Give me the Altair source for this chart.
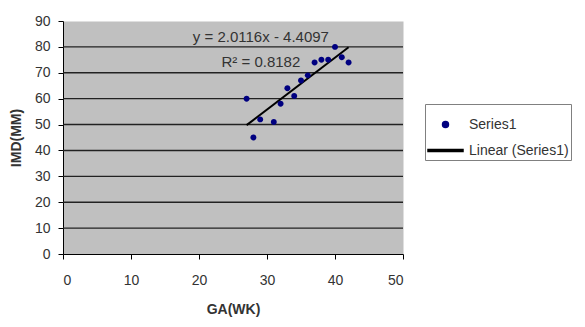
import altair as alt
import pandas as pd

# Data
ga_weeks = [27, 28, 29, 31, 32, 33, 34, 35, 36, 37, 38, 39, 40, 41, 42]
imd_mm = [60, 45, 52, 51, 58, 64, 61, 67, 69, 74, 75, 75, 80, 76, 74]
x_ticks = [0, 10, 20, 30, 40, 50]
y_ticks = [0, 10, 20, 30, 40, 50, 60, 70, 80, 90]
grid_values = [10, 20, 30, 40, 50, 60, 70, 80]
series_names = ["Series1", "Linear (Series1)"]
equation_text = "y = 2.0116x - 4.4097"
r2_text = "R\u00b2 = 0.8182"

FONT = "Liberation Sans"

points_df = pd.DataFrame({"ga": ga_weeks, "imd": imd_mm, "series": series_names[0]})
grid_df = pd.DataFrame({"g": grid_values})

xscale = alt.Scale(domain=[0, 50], nice=False, zero=False)
yscale = alt.Scale(domain=[0, 90], nice=False)

circle_path = "M0.17,0 A0.17,0.17 0 1,1 -0.17,0 A0.17,0.17 0 1,1 0.17,0 Z"
line_path = "M-1,-0.06 H1 V0.06 H-1 Z"

color_scale = alt.Scale(domain=series_names, range=["#000080", "#000000"])
shape_scale = alt.Scale(domain=series_names, range=[circle_path, line_path])

legend = alt.Legend(
    title=None, orient="none", legendX=362, legendY=83,
    strokeColor="#808080", fillColor="white", padding=2,
    labelFont=FONT, labelFontSize=14, labelColor="#333333",
    rowPadding=-7, labelOffset=5, symbolSize=1225,
)

xaxis = alt.Axis(
    values=x_ticks, title="GA(WK)", grid=False,
    domainColor="#000000", tickColor="#000000", tickSize=5,
    labelFont=FONT, labelFontSize=14, labelColor="#333333", labelPadding=14,
    labelOverlap=False,
    titleFont=FONT, titleFontSize=14, titleFontWeight="bold", titleColor="#333333",
    titlePadding=15,
)
yaxis = alt.Axis(
    values=y_ticks, title="IMD(MM)", grid=False,
    domainColor="#000000", tickColor="#000000", tickSize=5,
    labelFont=FONT, labelFontSize=14, labelColor="#333333", labelPadding=8,
    labelOverlap=False,
    titleFont=FONT, titleFontSize=14, titleFontWeight="bold", titleColor="#333333",
    titlePadding=11,
)

grid = alt.Chart(grid_df).mark_rule(color="#222222", strokeWidth=1.4).encode(
    y=alt.Y("g:Q", scale=yscale, axis=yaxis)
)

base = alt.Chart(points_df)

trend = base.transform_regression("ga", "imd").transform_calculate(
    series="'" + series_names[1] + "'"
).mark_line(strokeWidth=2).encode(
    x=alt.X("ga:Q", scale=xscale, axis=xaxis),
    y=alt.Y("imd:Q", scale=yscale, axis=yaxis),
    color=alt.Color("series:N", scale=color_scale, legend=legend),
)

pts = base.mark_point(filled=True, opacity=1, size=1225).encode(
    x=alt.X("ga:Q", scale=xscale, axis=xaxis),
    y=alt.Y("imd:Q", scale=yscale, axis=yaxis),
    color=alt.Color("series:N", scale=color_scale, legend=legend),
    shape=alt.Shape("series:N", scale=shape_scale, legend=legend),
)

eq = alt.Chart().mark_text(font=FONT, fontSize=15, color="#333333").encode(
    x=alt.datum(29.1, axis=xaxis), y=alt.datum(83.8, axis=yaxis),
    text=alt.value(equation_text)
)
r2 = alt.Chart().mark_text(font=FONT, fontSize=15, color="#333333").encode(
    x=alt.datum(29.1, axis=xaxis), y=alt.datum(74.2, axis=yaxis),
    text=alt.value(r2_text)
)

chart = alt.layer(grid, trend, pts, eq, r2).properties(
    width=340, height=233,
    autosize=alt.AutoSizeParams(type="none"),
    padding={"left": 55, "top": 13, "right": 174, "bottom": 65},
    background="white",
).configure_view(fill="#c0c0c0", stroke="transparent")

chart.save("out.html", embed_options={"renderer": "svg", "actions": False})
